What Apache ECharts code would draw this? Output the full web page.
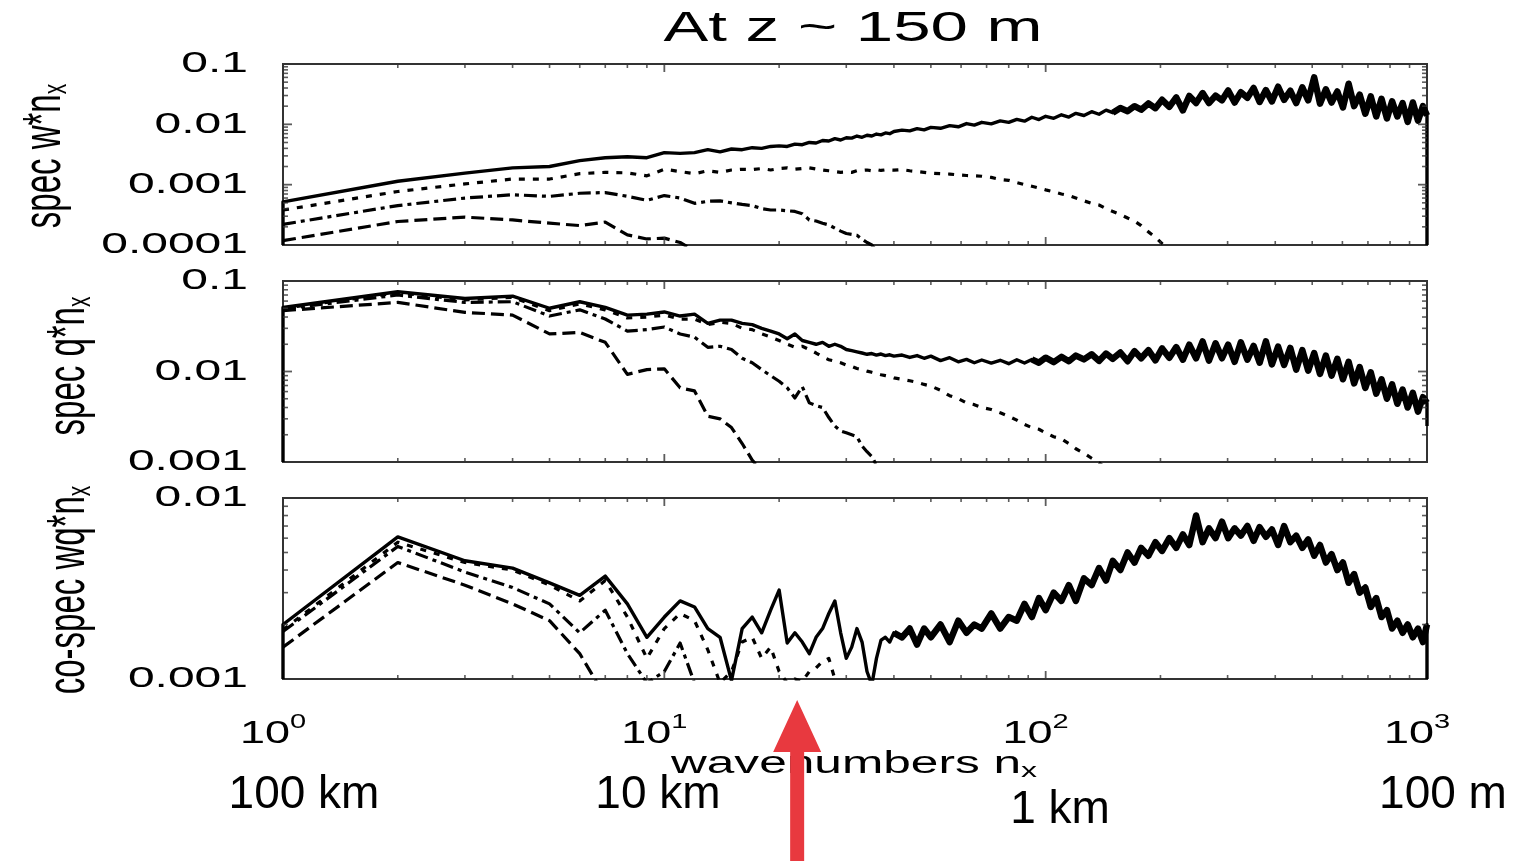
<!DOCTYPE html>
<html><head><meta charset="utf-8">
<script src="https://cdn.jsdelivr.net/npm/echarts@6/dist/echarts.min.js"></script>
<style>html,body{margin:0;padding:0;background:#fff}#c{width:1515px;height:861px}</style>
</head><body><div id="c"></div>
<script>
// ---------- DATA ----------
// wavenumbers n_x (shared sampling grid)
const K = [1,2,3,4,5,6,7,8,9,10,
  11,12,13,14,15,16,17,18,19,20,
  21,22,23,24,25,26,27,28,29,30,
  31,32,33,34,35,36,37,38,39,40,
  42,44,46,48,50,53,56,59,62,65,
  68,72,76,80,84,88,92,96,100,105,
  110,115,120,126,132,138,144,150,157,164,
  171,178,186,194,202,211,220,229,238,248,
  258,268,279,290,301,313,325,338,351,364,
  378,392,407,422,438,454,471,488,506,524,
  543,562,582,602,623,644,666,689,712,736,
  760,785,810,836,863,890,918,947,976,1000];

// Panel 1: spec w*n_x
const W_SOLID = [5.2e-4,1.14e-3,1.55e-3,1.9e-3,2.0e-3,2.5e-3,2.8e-3,2.9e-3,2.8e-3,3.4e-3,
  3.3e-3,3.4e-3,3.8e-3,3.5e-3,3.9e-3,3.8e-3,4.1e-3,4.0e-3,4.3e-3,4.4e-3,
  4.3e-3,4.7e-3,4.6e-3,5.0e-3,4.9e-3,5.4e-3,5.3e-3,5.8e-3,5.5e-3,6.0e-3,
  5.9e-3,6.4e-3,6.1e-3,6.6e-3,6.4e-3,6.9e-3,6.7e-3,7.2e-3,7.0e-3,7.6e-3,
  0.0080,0.0078,0.0085,0.0081,0.0089,0.0086,0.0095,0.0091,0.0103,0.0097,
  0.0108,0.0102,0.0114,0.0108,0.0121,0.0113,0.0131,0.0120,0.0136,0.0126,
  0.0144,0.0132,0.0152,0.0140,0.0162,0.0147,0.0172,0.0156,0.0186,0.0165,
  0.0200,0.0175,0.0222,0.0185,0.0255,0.0195,0.0280,0.0170,0.0295,0.0225,
  0.0330,0.0225,0.0300,0.0250,0.0365,0.0230,0.0340,0.0275,0.0400,0.0235,
  0.0370,0.0240,0.0420,0.0255,0.0360,0.0225,0.0410,0.0250,0.0600,0.0220,
  0.0380,0.0230,0.0350,0.0190,0.0470,0.0200,0.0310,0.0150,0.0290,0.0135,
  0.0265,0.0125,0.0240,0.0135,0.0225,0.0110,0.0230,0.0115,0.0200,0.0140];
const W_EDGES = [1e-4, 1e-4];
const W_DOT = [3.8e-4,7.7e-4,1.03e-3,1.24e-3,1.24e-3,1.52e-3,1.6e-3,1.57e-3,1.4e-3,1.8e-3,
  1.65e-3,1.52e-3,1.7e-3,1.6e-3,1.75e-3,1.8e-3,1.78e-3,1.85e-3,1.75e-3,1.85e-3,
  1.9e-3,1.8e-3,1.85e-3,1.9e-3,1.82e-3,1.75e-3,1.7e-3,1.65e-3,1.6e-3,1.62e-3,
  1.6e-3,1.7e-3,1.72e-3,1.75e-3,1.7e-3,1.78e-3,1.72e-3,1.76e-3,1.75e-3,1.74e-3,
  1.78e-3,1.7e-3,1.65e-3,1.6e-3,1.55e-3,1.52e-3,1.5e-3,1.45e-3,1.42e-3,1.4e-3,
  1.38e-3,1.32e-3,1.22e-3,1.18e-3,1.08e-3,1.0e-3,9.4e-4,8.8e-4,8.2e-4,7.6e-4,
  7.0e-4,6.6e-4,6.0e-4,5.4e-4,4.9e-4,4.6e-4,4.0e-4,3.6e-4,3.2e-4,2.8e-4,
  2.5e-4,2.1e-4,1.65e-4,1.35e-4,1.05e-4,8e-5];
const W_DASHDOT = [2.2e-4,4.5e-4,6.0e-4,6.8e-4,6.4e-4,7.2e-4,7.4e-4,6.4e-4,5.5e-4,6.6e-4,
  6.0e-4,4.9e-4,5.3e-4,5.4e-4,5.0e-4,4.7e-4,4.5e-4,4.0e-4,3.8e-4,3.8e-4,
  3.7e-4,3.6e-4,3.3e-4,2.6e-4,2.5e-4,2.3e-4,2.15e-4,1.9e-4,1.7e-4,1.55e-4,
  1.5e-4,1.45e-4,1.25e-4,1.1e-4,1.0e-4,8e-5];
const W_DASH = [1.18e-4,2.45e-4,2.9e-4,2.6e-4,2.3e-4,2.1e-4,2.4e-4,1.47e-4,1.26e-4,1.3e-4,1.1e-4,8e-5];

// Panel 2: spec q*n_x
const Q_SOLID = [0.051,0.076,0.064,0.068,0.050,0.059,0.051,0.042,0.043,0.0455,
  0.041,0.043,0.034,0.037,0.037,0.034,0.033,0.030,0.028,0.026,
  0.023,0.026,0.022,0.021,0.020,0.021,0.019,0.020,0.019,0.0175,
  0.017,0.0165,0.016,0.0155,0.0158,0.0152,0.0156,0.015,0.0153,0.0148,
  0.0152,0.0143,0.0150,0.0140,0.0148,0.0132,0.0142,0.0128,0.0136,0.0125,
  0.0134,0.0124,0.0133,0.0122,0.0135,0.0124,0.0136,0.0125,0.0142,0.0127,
  0.0145,0.0130,0.0150,0.0136,0.0155,0.0131,0.0158,0.0138,0.0162,0.0130,
  0.0168,0.0140,0.0172,0.0133,0.0180,0.0142,0.0186,0.0135,0.0198,0.0140,
  0.0215,0.0132,0.0205,0.0140,0.0198,0.0128,0.0210,0.0135,0.0192,0.0125,
  0.0215,0.0120,0.0188,0.0118,0.0182,0.0105,0.0172,0.0102,0.0160,0.0094,
  0.0150,0.0090,0.0138,0.0082,0.0128,0.0074,0.0112,0.0066,0.0098,0.0057,
  0.0082,0.0050,0.0072,0.0044,0.0063,0.0040,0.0058,0.0036,0.0052,0.0045];
const Q_EDGES = [1e-3, 2.5e-3];
const Q_DOT = [0.050,0.074,0.062,0.066,0.047,0.056,0.048,0.039,0.040,0.042,
  0.038,0.038,0.033,0.035,0.034,0.030,0.029,0.026,0.024,0.022,
  0.020,0.0185,0.019,0.0175,0.016,0.0145,0.0135,0.013,0.0125,0.0118,
  0.0114,0.0108,0.0105,0.0101,0.0098,0.0095,0.0092,0.0090,0.0088,0.0085,
  0.0082,0.0079,0.0076,0.0072,0.0069,0.0062,0.0054,0.0050,0.0045,0.0043,
  0.0040,0.0038,0.0035,0.0032,0.0029,0.0026,0.0024,0.0023,0.0021,0.0019,
  0.0018,0.0016,0.0014,0.00125,0.0011,0.00098,0.00085];
const Q_DASHDOT = [0.049,0.070,0.058,0.059,0.041,0.048,0.038,0.028,0.029,0.031,
  0.026,0.024,0.0185,0.019,0.0175,0.014,0.0125,0.0105,0.009,0.0078,
  0.0066,0.0051,0.0068,0.0045,0.0042,0.004,0.0031,0.0025,0.0022,0.0021,
  0.002,0.0019,0.0015,0.0013,0.00115,0.00092];
const Q_DASH = [0.047,0.058,0.045,0.042,0.026,0.027,0.021,0.0093,0.0105,0.0107,
  0.0066,0.0061,0.0032,0.0030,0.0024,0.0016,0.00105,0.0008];

// Panel 3: co-spec wq*n_x
const WQ_SOLID = [0.0020,0.0061,0.0045,0.0041,0.0034,0.0029,0.0037,0.0026,0.0017,0.0022,
  0.0027,0.0025,0.0019,0.0017,0.00098,0.0019,0.0022,0.0018,0.0024,0.0031,
  0.00158,0.0018,0.0016,0.00138,0.0017,0.0019,0.0023,0.0027,0.0018,0.0013,
  0.0015,0.0019,0.0016,0.0011,0.00093,0.0013,0.00164,0.0017,0.0016,0.0018,
  0.0017,0.0019,0.00155,0.0019,0.0017,0.0020,0.0016,0.0021,0.0018,0.0020,
  0.0019,0.0023,0.0019,0.0022,0.0021,0.0026,0.0022,0.0028,0.0024,0.0030,
  0.0027,0.0033,0.0027,0.0036,0.0033,0.0041,0.0035,0.0045,0.0040,0.0050,
  0.0044,0.0053,0.0048,0.0057,0.0051,0.0060,0.0053,0.0063,0.0055,0.0080,
  0.0057,0.0068,0.0060,0.0074,0.0060,0.0068,0.0062,0.0070,0.0058,0.0069,
  0.0061,0.0067,0.0055,0.0070,0.0057,0.0062,0.0053,0.0059,0.0048,0.0055,
  0.0044,0.0049,0.0040,0.0044,0.0034,0.0038,0.0030,0.0032,0.0025,0.0028,
  0.0022,0.0024,0.0019,0.0021,0.0018,0.0020,0.0017,0.0019,0.0016,0.0020];
const WQ_EDGES = [1e-3, 1e-3];
const WQ_DOT = [0.00187,0.0057,0.0044,0.0040,0.0033,0.0027,0.0035,0.0022,0.0013,0.0019,
  0.0023,0.0021,0.00145,0.00095,0.0011,0.0016,0.0017,0.0013,0.0015,0.0011,
  0.00095,0.0010,0.00097,0.0011,0.00115,0.00125,0.0013,0.0010,0.0009];
const WQ_DASHDOT = [0.00183,0.0054,0.0039,0.0032,0.0026,0.0018,0.0024,0.00138,0.00095,0.0011,
  0.00158,0.00095,0.0008];
const WQ_DASH = [0.0015,0.0044,0.0033,0.0026,0.0021,0.00138,0.0008];

// where the solid curves turn into a thick noisy band (wavenumber)
const BAND_FROM = [150, 90, 40];

// axis ranges, ticks and labels
const X_RANGE = [1, 1000];
const Y_RANGES = [[1e-4, 0.1], [1e-3, 0.1], [1e-3, 0.01]];
const X_TICK_VALUES = [1, 10, 100, 1000];
const X_TICK_EXP = ['0', '1', '2', '3'];
const X_MAJOR = [10, 100];
const X_MINOR = [2,3,4,5,6,7,8,9,20,30,40,50,60,70,80,90,200,300,400,500,600,700,800,900];
const Y_TICK_VALUES = [[1e-4, 1e-3, 1e-2, 0.1], [1e-3, 1e-2, 0.1], [1e-3, 1e-2]];
const Y_TICK_TEXT = [['0.0001', '0.001', '0.01', '0.1'], ['0.001', '0.01', '0.1'], ['0.001', '0.01']];
const Y_MAJOR = [[1e-3, 1e-2], [1e-2], []];
const Y_MINOR = [
  [2e-4,3e-4,4e-4,5e-4,6e-4,7e-4,8e-4,9e-4,2e-3,3e-3,4e-3,5e-3,6e-3,7e-3,8e-3,9e-3,0.02,0.03,0.04,0.05,0.06,0.07,0.08,0.09],
  [2e-3,3e-3,4e-3,5e-3,6e-3,7e-3,8e-3,9e-3,0.02,0.03,0.04,0.05,0.06,0.07,0.08,0.09],
  [2e-3,3e-3,4e-3,5e-3,6e-3,7e-3,8e-3,9e-3]];
const Y_NAMES = [['spec w*n', 'x'], ['spec q*n', 'x'], ['co-spec wq*n', 'x']];
const TITLE = 'At z ~ 150 m';
const X_NAME = ['wavenumbers n', 'x'];
const SCALE_LABELS = ['100 km', '10 km', '1 km', '100 m'];
const ARROW_N = 22.3;

// ---------- CHART ----------
const FONT = '"Liberation Sans", Arial, Helvetica, sans-serif';
const SX = 1.6;
const GRID_TOPS = [64, 281, 498];
const GRID_H = 181;
const DASH = { solid: 'solid', dot: [6, 8], dashdot: [13, 5, 4, 5], dash: [13, 6] };

function pairs(vals) { return vals.map((v, i) => [K[i], v]); }
function withEdges(vals, edges) {
  return [[X_RANGE[0], edges[0]]].concat(pairs(vals), [[X_RANGE[1], edges[1]]]);
}
function line(gi, name, data, type, width) {
  return { type: 'line', name, xAxisIndex: gi, yAxisIndex: gi, data,
    symbol: 'none', showSymbol: false, clip: true, silent: true, z: 3,
    lineStyle: { color: '#000', width: width || 3.2, type, join: 'round', cap: 'butt' } };
}
function ticks(gi, data, size, offset) {
  return { type: 'scatter', xAxisIndex: gi, yAxisIndex: gi, data, symbol: 'rect',
    symbolSize: size, symbolOffset: offset, clip: false, silent: true, z: 4,
    itemStyle: { color: '#333' } };
}

const series = [];
const panels = [
  [W_SOLID, W_EDGES, W_DOT, W_DASHDOT, W_DASH],
  [Q_SOLID, Q_EDGES, Q_DOT, Q_DASHDOT, Q_DASH],
  [WQ_SOLID, WQ_EDGES, WQ_DOT, WQ_DASHDOT, WQ_DASH]];
panels.forEach((p, gi) => {
  series.push(line(gi, 'dash', pairs(p[4]), DASH.dash));
  series.push(line(gi, 'dashdot', pairs(p[3]), DASH.dashdot));
  series.push(line(gi, 'dot', pairs(p[2]), DASH.dot));
  series.push(line(gi, 'solid', withEdges(p[0], p[1]), DASH.solid, 3.4));
  series.push(line(gi, 'solid band', pairs(p[0]).filter(d => d[0] >= BAND_FROM[gi]), DASH.solid, 6.5));
  const [ymin, ymax] = Y_RANGES[gi];
  series.push(ticks(gi, X_MINOR.map(x => [x, ymin]), [1.6, 4], [0, -2]));
  series.push(ticks(gi, X_MINOR.map(x => [x, ymax]), [1.6, 4], [0, 2]));
  series.push(ticks(gi, X_MAJOR.map(x => [x, ymin]), [1.8, 8], [0, -4]));
  series.push(ticks(gi, X_MAJOR.map(x => [x, ymax]), [1.8, 8], [0, 4]));
  series.push(ticks(gi, Y_MINOR[gi].map(y => [X_RANGE[0], y]), [5, 1.6], [2.5, 0]));
  series.push(ticks(gi, Y_MINOR[gi].map(y => [X_RANGE[1], y]), [5, 1.6], [-2.5, 0]));
  if (Y_MAJOR[gi].length) {
    series.push(ticks(gi, Y_MAJOR[gi].map(y => [X_RANGE[0], y]), [9, 1.8], [4.5, 0]));
    series.push(ticks(gi, Y_MAJOR[gi].map(y => [X_RANGE[1], y]), [9, 1.8], [-4.5, 0]));
  }
});

const hidden = { axisLine: { show: false }, axisTick: { show: false }, axisLabel: { show: false }, splitLine: { show: false } };
const option = {
  animation: false,
  backgroundColor: '#fff',
  grid: GRID_TOPS.map(t => ({ left: 283, right: 88, top: t, height: GRID_H, show: true,
    borderColor: '#333', borderWidth: 2, backgroundColor: 'transparent' })),
  xAxis: [0, 1, 2].map(i => Object.assign({ type: 'log', logBase: 10, min: X_RANGE[0], max: X_RANGE[1], gridIndex: i }, hidden)),
  yAxis: Y_RANGES.map((r, i) => Object.assign({ type: 'log', logBase: 10, min: r[0], max: r[1], gridIndex: i }, hidden)),
  series
};

const chart = echarts.init(document.getElementById('c'), null, { renderer: 'canvas' });
chart.setOption(option);

// ---------- TEXT & ANNOTATIONS ----------
function textEl(x, y, style, extra) {
  const s = Object.assign({ fill: '#000', fontFamily: FONT }, style);
  if (s.align) s.textAlign = s.align;
  if (s.verticalAlign) s.textVerticalAlign = s.verticalAlign;
  return Object.assign({ type: 'text', x, y, silent: true, z: 10, style: s }, extra || {});
}
const g = [];
// title
g.push(textEl(853, 29, { text: TITLE, fontSize: 42, align: 'center', verticalAlign: 'middle' }, { scaleX: SX }));
// y tick labels
Y_TICK_VALUES.forEach((vals, gi) => vals.forEach((v, j) => {
  const p = chart.convertToPixel({ gridIndex: gi }, [X_RANGE[0], v]);
  g.push(textEl(p[0] - 35, p[1], { text: Y_TICK_TEXT[gi][j], fontSize: 30, align: 'right', verticalAlign: 'middle' }, { scaleX: SX }));
}));
// x tick labels (10^k) under the bottom panel
X_TICK_VALUES.forEach((v, j) => {
  const p = chart.convertToPixel({ gridIndex: 2 }, [v, Y_RANGES[2][0]]);
  g.push(textEl(p[0] - 10, p[1] + 52, {
    text: '{b|10}{s|' + X_TICK_EXP[j] + '}', align: 'center', verticalAlign: 'middle',
    rich: { b: { fontSize: 31, fontFamily: FONT, fill: '#000', lineHeight: 38, verticalAlign: 'bottom' },
            s: { fontSize: 20, fontFamily: FONT, fill: '#000', lineHeight: 2, verticalAlign: 'top' } }
  }, { scaleX: 1.45 }));
});
// x axis name
g.push(textEl(854, 765, {
  text: '{b|' + X_NAME[0] + '}{s|' + X_NAME[1] + '}', align: 'center', verticalAlign: 'middle',
  rich: { b: { fontSize: 31, fontFamily: FONT, fill: '#000', lineHeight: 32, verticalAlign: 'top' },
          s: { fontSize: 20, fontFamily: FONT, fill: '#000', lineHeight: 8, verticalAlign: 'bottom' } }
}, { scaleX: SX }));
// y axis names (rotated)
const Y_NAME_POS = [[46, 156], [70, 366], [70, 590]];
Y_NAMES.forEach((nm, gi) => {
  g.push(textEl(Y_NAME_POS[gi][0], Y_NAME_POS[gi][1], {
    text: '{b|' + nm[0] + '}{s|' + nm[1] + '}', align: 'center', verticalAlign: 'middle',
    rich: { b: { fontSize: 33, fontFamily: FONT, fill: '#000', lineHeight: 34, verticalAlign: 'top' },
            s: { fontSize: 21, fontFamily: FONT, fill: '#000', lineHeight: 8, verticalAlign: 'bottom' } }
  }, { rotation: Math.PI / 2, scaleY: 1.6 }));
});
// wavelength annotations
const SCALE_POS = [[304, 795], [658, 795], [1060, 810], [1443, 795]];
SCALE_LABELS.forEach((t, i) => {
  g.push(textEl(SCALE_POS[i][0], SCALE_POS[i][1], { text: t, fontSize: 46, align: 'center', verticalAlign: 'middle' }));
});
// red arrow pointing at n ~ ARROW_N
const ax = chart.convertToPixel({ gridIndex: 2 }, [ARROW_N, Y_RANGES[2][0]])[0];
g.push({ type: 'polygon', silent: true, z: 20,
  shape: { points: [[ax, 700], [ax + 24, 752], [ax + 7, 752], [ax + 7, 861], [ax - 7, 861], [ax - 7, 752], [ax - 24, 752]] },
  style: { fill: '#E8393F' } });

chart.setOption({ graphic: { elements: g } });
</script>
</body></html>
